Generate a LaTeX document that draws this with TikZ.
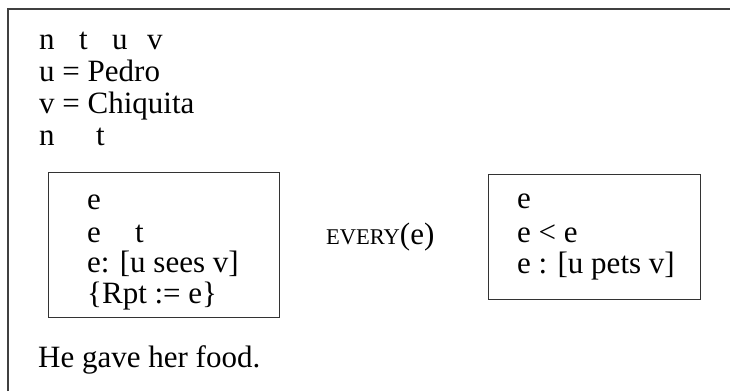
\documentclass[tikz,border=0pt]{standalone}
\usepackage{fontspec}
\setmainfont{Liberation Serif}
\begin{document}
\begin{tikzpicture}[x=1pt,y=-1pt,
  txt/.style={anchor=base west,inner sep=0pt,font=\fontsize{31}{34}\selectfont},
  frameline/.style={draw=black!75,line width=1.6pt},
  drsbox/.style={draw=black!80,line width=1pt,anchor=north west,inner sep=0pt}]
\useasboundingbox (0,0) rectangle (730,391);

% outer frame, open to the right and bottom
\coordinate (fb) at (8,391);
\coordinate (ftl) at (8,9);
\coordinate (fr) at (731,9);
\draw[frameline] (fb) -- (ftl) -- (fr);

% top conditions
\node[txt] (r1a) at (39,49.5) {n};
\node[txt] (r1b) at (79,49.5) {t};
\node[txt] (r1c) at (112,49.5) {u};
\node[txt] (r1d) at (147,49.5) {v};
\node[txt] (r2) at (39,81.5) {u = Pedro};
\node[txt] (r3) at (39,113.5) {v = Chiquita};
\node[txt] (r4a) at (39,145) {n};
\node[txt] (r4b) at (96,145) {t};

% left sub-box
\node[drsbox,minimum width=231.5pt,minimum height=144.5pt] (lbox) at (47.5,172) {};
\node[txt] (l1) at (87,209) {e};
\node[txt] (l2a) at (87,242) {e};
\node[txt] (l2b) at (135,242) {t};
\node[txt] (l3) at (87,272.5) {e: [u sees v]};
\node[txt] (l4) at (87,303) {\{Rpt := e\}};

% quantifier
\node[anchor=base west,inner sep=0pt] (ev) at (326,244)
  {\fontsize{22.5}{25}\selectfont EVERY\fontsize{31}{34}\selectfont(e)};

% right sub-box
\node[drsbox,minimum width=212.5pt,minimum height=124.5pt] (rbox) at (487.5,174) {};
\node[txt] (q1) at (517,208.5) {e};
\node[txt] (q2) at (517,242) {e < e};
\node[txt] (q3) at (517,273) {e : [u pets v]};

% sentence
\node[txt] (s) at (38,367) {He gave her food.};
\end{tikzpicture}
\end{document}
